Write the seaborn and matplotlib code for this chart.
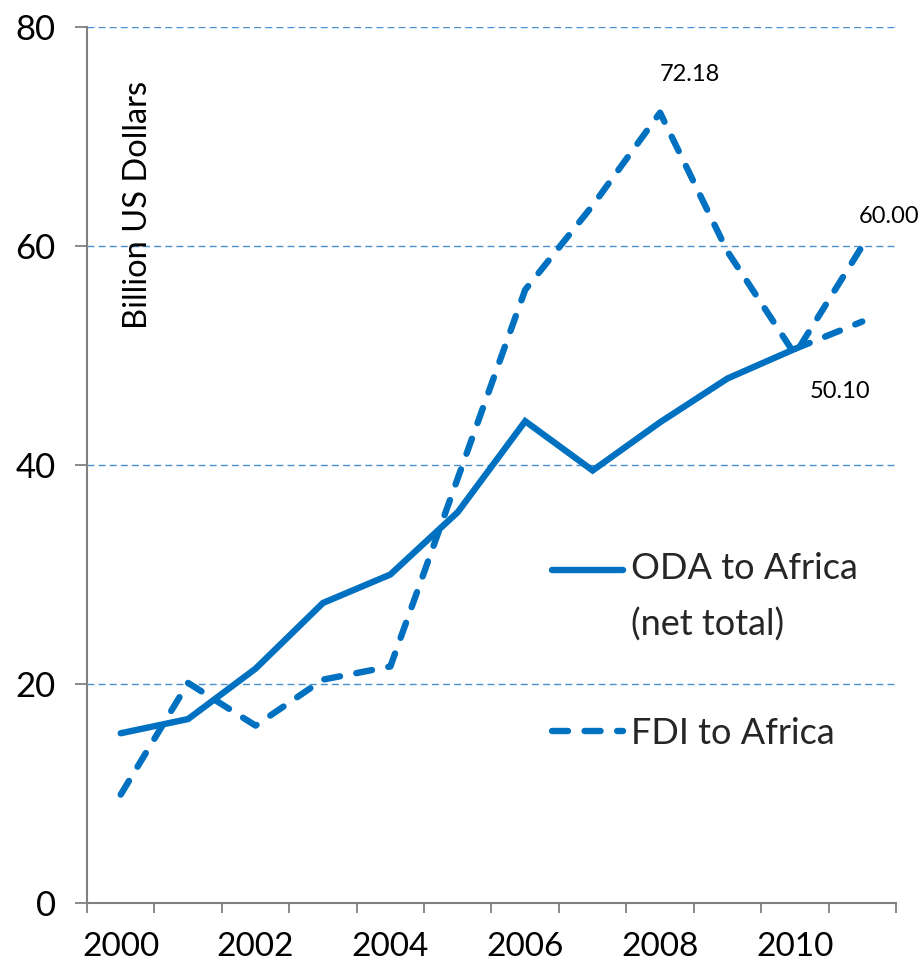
import numpy as np
import matplotlib
matplotlib.use("Agg")
import matplotlib.pyplot as plt
import seaborn as sns
from matplotlib.lines import Line2D
from matplotlib.legend_handler import HandlerLine2D

# ---------------- data ----------------
years = [2000, 2001, 2002, 2003, 2004, 2005, 2006, 2007, 2008, 2009, 2010, 2011]
oda_years = [2000, 2001, 2002, 2003, 2004, 2005, 2006, 2007, 2008, 2009, 2010]
oda = [15.5, 16.8, 21.4, 27.4, 30.0, 35.7, 44.0, 39.5, 43.9, 47.9, 50.6]
oda_proj_years = [2010, 2011]
oda_proj = [50.6, 53.1]
fdi = [9.9, 20.1, 16.2, 20.4, 21.6, 38.8, 56.0, 63.7, 72.18, 59.5, 50.10, 60.00]
labeled_years = [2008, 2011, 2010]
y_ticks = [0, 20, 40, 60, 80]
x_tick_years = [2000, 2002, 2004, 2006, 2008, 2010]
x_tick_labels = ["2000", "2002", "2004", "2006", "2008", "2010"]
series_names = ["ODA to Africa\n(net total)", "FDI to Africa"]
y_label = "Billion US Dollars"

# ---------------- style ----------------
sns.set_theme(style="white")
plt.rcParams["font.family"] = ["Lato", "DejaVu Sans"]

BLUE = "#0070C0"
GRID = "#4A90D0"
SPINE = "#808080"
LW = 4.6
DASH = (0, (2.5, 2.6))

fig = plt.figure(figsize=(9.22, 9.64), dpi=100)
ax = fig.add_axes([87 / 922, 61 / 964, 809 / 922, 876 / 964])

for v in y_ticks[1:]:
    ax.axhline(v, color=GRID, lw=1.0, linestyle=(0, (5, 3)), zorder=1)

sns.lineplot(x=oda_years, y=oda, color=BLUE, lw=LW, ax=ax,
             solid_capstyle="round", solid_joinstyle="miter", zorder=3)
sns.lineplot(x=oda_proj_years, y=oda_proj, color=BLUE, lw=LW, ax=ax,
             linestyle=DASH, dash_capstyle="round", zorder=3)
sns.lineplot(x=years, y=fdi, color=BLUE, lw=LW, ax=ax,
             linestyle=DASH, dash_capstyle="round", dash_joinstyle="round", zorder=3)

offsets = {2008: (21.6, 27.4), 2011: (19.0, 21.0), 2010: (32.4, -26.6)}
for yr in labeled_years:
    v = fdi[years.index(yr)]
    ax.annotate(f"{v:.2f}", xy=(yr, v), xytext=offsets[yr], textcoords="offset points",
                ha="center", va="center", fontsize=17, color="black")

ax.set_xlim(1999.5, 2011.5)
ax.set_ylim(0, 80)
ax.set_yticks(y_ticks)
ax.set_yticklabels([str(t) for t in y_ticks])
ax.set_xticks(x_tick_years)
ax.set_xticklabels(x_tick_labels)
ax.set_xticks(np.arange(1999.5, 2012.0, 1.0), minor=True)
ax.tick_params(axis="x", which="major", length=0, pad=21, labelsize=24, colors="black")
ax.tick_params(axis="x", which="minor", length=7.5, width=1.3, color=SPINE, direction="out")
ax.tick_params(axis="y", which="major", length=8.5, width=1.3, color=SPINE, direction="out",
               pad=14, labelsize=25, labelcolor="black")
ax.xaxis.set_ticks_position("bottom")
ax.yaxis.set_ticks_position("left")
for s in ["top", "right"]:
    ax.spines[s].set_visible(False)
for s in ["left", "bottom"]:
    ax.spines[s].set_color(SPINE)
    ax.spines[s].set_linewidth(1.5)
ax.set_xlabel("")
ax.set_ylabel("")

ax.text(0.063, 0.797, y_label, transform=ax.transAxes, rotation=90,
        ha="center", va="center", fontsize=23.5, color="black")


class UpShift(HandlerLine2D):
    def __init__(self, shift, **kw):
        super().__init__(**kw)
        self.shift = shift

    def create_artists(self, legend, orig_handle, xdescent, ydescent, width, height,
                       fontsize, trans):
        arts = super().create_artists(legend, orig_handle, xdescent, ydescent, width,
                                      height, fontsize, trans)
        for a in arts:
            a.set_ydata(np.asarray(a.get_ydata()) + self.shift)
        return arts


h_oda = Line2D([], [], color=BLUE, lw=LW, solid_capstyle="round")
h_fdi = Line2D([], [], color=BLUE, lw=LW, linestyle=DASH, dash_capstyle="round")
leg = ax.legend([h_oda, h_fdi], series_names, loc="upper left", bbox_to_anchor=(0.575, 0.401),
                frameon=False, borderpad=0, borderaxespad=0, fontsize=26,
                handlelength=1.95, handletextpad=0.22, labelspacing=2.1,
                handler_map={h_oda: UpShift(19.4)})
for t in leg.get_texts():
    t.set_linespacing(1.8)

fig.savefig("out.png", dpi=100, facecolor="white")
